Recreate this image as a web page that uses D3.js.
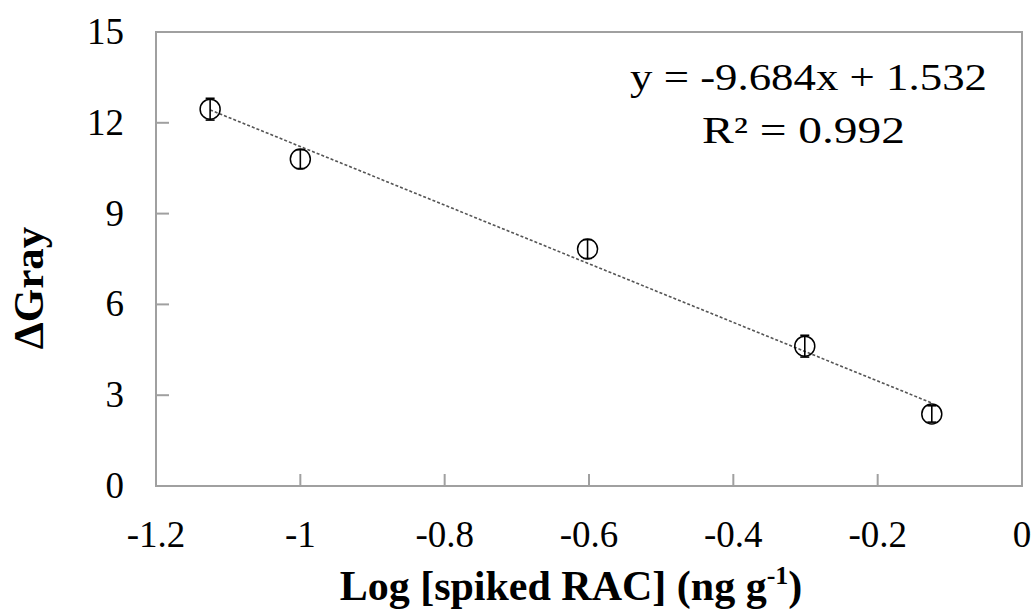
<!DOCTYPE html>
<html lang="en">
<head>
<meta charset="utf-8">
<title>Calibration: Log [spiked RAC] vs ΔGray</title>
<script src="https://cdnjs.cloudflare.com/ajax/libs/d3/7.8.5/d3.min.js"></script>
<style>
  body { margin: 0; background: #fff; }
  text { font-family: "Liberation Serif", "Times New Roman", serif; fill: #000; }
</style>
</head>
<body>
<script>
// data
var logConc = [-1.125, -1, -0.602, -0.301, -0.125];
var deltaGray = [12.45, 10.8, 7.83, 4.62, 2.38];
var errGray = [0.36, 0.31, 0.31, 0.36, 0.27];
var slope = -9.684, intercept = 1.532;
var xTicks = [-1.2, -1, -0.8, -0.6, -0.4, -0.2, 0];
var yTicks = [0, 3, 6, 9, 12, 15];

var w = 1033, h = 613;
var mLeft = 156, mRight = 1022, mTop = 32, mBottom = 486;

var svg = d3.select("body").append("svg")
  .attr("width", w).attr("height", h);

var x = d3.scaleLinear().domain([-1.2, 0]).range([mLeft, mRight]);
var y = d3.scaleLinear().domain([0, 15]).range([mBottom, mTop]);

// frame
svg.append("rect")
  .attr("x", mLeft).attr("y", mTop)
  .attr("width", mRight - mLeft).attr("height", mBottom - mTop)
  .attr("fill", "none").attr("stroke", "#a0a0a0").attr("stroke-width", 2);

// inward ticks
svg.selectAll(".xt").data(xTicks.slice(1, -1)).enter().append("line")
  .attr("x1", d => x(d)).attr("x2", d => x(d))
  .attr("y1", mBottom).attr("y2", mBottom - 12)
  .attr("stroke", "#a0a0a0").attr("stroke-width", 2);
svg.selectAll(".yt").data(yTicks.slice(1, -1)).enter().append("line")
  .attr("x1", mLeft).attr("x2", mLeft + 13)
  .attr("y1", d => y(d)).attr("y2", d => y(d))
  .attr("stroke", "#a0a0a0").attr("stroke-width", 2);

// tick labels
svg.selectAll(".xl").data(xTicks).enter().append("text")
  .attr("x", d => x(d)).attr("y", 547)
  .attr("text-anchor", "middle").style("font-size", "37px")
  .text(d => String(d));
svg.selectAll(".yl").data(yTicks).enter().append("text")
  .attr("x", 124).attr("y", d => y(d) + 12)
  .attr("text-anchor", "end").style("font-size", "37px")
  .text(d => d);

// trend line
svg.append("line")
  .attr("x1", x(logConc[0])).attr("y1", y(slope * logConc[0] + intercept))
  .attr("x2", x(logConc[4])).attr("y2", y(slope * logConc[4] + intercept))
  .attr("stroke", "#555").attr("stroke-width", 1.6)
  .attr("stroke-dasharray", "3,2");

// error bars + markers
var pts = svg.selectAll(".pt").data(logConc).enter().append("g");
pts.append("line")
  .attr("x1", d => x(d)).attr("x2", d => x(d))
  .attr("y1", (d, i) => y(deltaGray[i] + errGray[i]))
  .attr("y2", (d, i) => y(deltaGray[i] - errGray[i]))
  .attr("stroke", "#000").attr("stroke-width", 1.6);
[1, -1].forEach(function(s) {
  pts.append("line")
    .attr("x1", d => x(d) - 4.5).attr("x2", d => x(d) + 4.5)
    .attr("y1", (d, i) => y(deltaGray[i] + s * errGray[i]))
    .attr("y2", (d, i) => y(deltaGray[i] + s * errGray[i]))
    .attr("stroke", "#000").attr("stroke-width", 1.6);
});
pts.append("circle")
  .attr("cx", d => x(d)).attr("cy", (d, i) => y(deltaGray[i]))
  .attr("r", 10)
  .attr("fill", "none").attr("stroke", "#000").attr("stroke-width", 1.5);

// equation (the original box is stretched sideways)
svg.append("text")
  .attr("x", 630).attr("y", 90)
  .attr("textLength", 357).attr("lengthAdjust", "spacingAndGlyphs")
  .style("font-size", "38px")
  .text("y = -9.684x + 1.532");
svg.append("text")
  .attr("x", 702).attr("y", 143)
  .attr("textLength", 203).attr("lengthAdjust", "spacingAndGlyphs")
  .style("font-size", "38px")
  .text("R² = 0.992");

// axis titles
var xt = svg.append("text")
  .attr("x", 571).attr("y", 600).attr("text-anchor", "middle")
  .style("font-size", "42px").style("font-weight", "bold");
xt.append("tspan").text("Log [spiked RAC] (ng g");
xt.append("tspan").attr("dy", -16).style("font-size", "26px").text("-1");
xt.append("tspan").attr("dy", 16).text(")");

svg.append("text")
  .attr("transform", "translate(43,288) rotate(-90)")
  .attr("text-anchor", "middle")
  .style("font-size", "43px").style("font-weight", "bold")
  .text("ΔGray");
</script>
</body>
</html>
